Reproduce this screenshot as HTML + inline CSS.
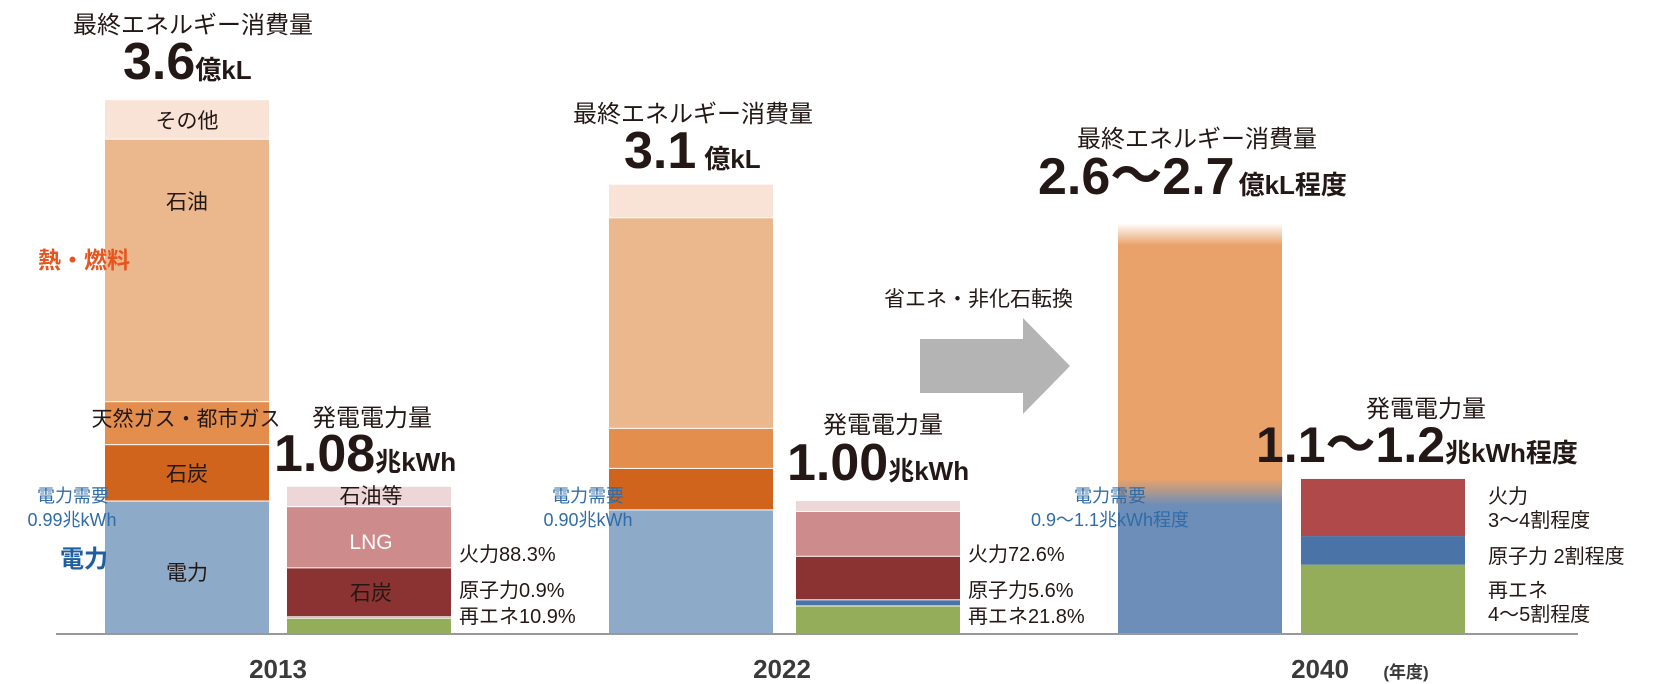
<!DOCTYPE html>
<html><head><meta charset="utf-8"><style>
html,body{margin:0;padding:0;background:#fff;}
svg{display:block;font-family:"Liberation Sans","Noto Sans CJK JP",sans-serif;}
</style></head><body>
<svg id="chart" width="1662" height="684" viewBox="0 0 1662 684" xmlns="http://www.w3.org/2000/svg">
<defs>
<linearGradient id="g2040" x1="0" y1="0" x2="0" y2="1" gradientUnits="userSpaceOnUse" x1="0" y1="223" x2="0" y2="634">
</linearGradient>
</defs>
<g id="bars"></g>
<g id="labels"></g>
</svg>
<script>
// Final energy consumption (億kL), segments bottom→top: 電力, 石炭, 天然ガス, 石油, その他
const years = ["2013", "2022", "2040"];
const energyElec = [0.90, 0.84, 0.95];
const energyCoal = [0.38, 0.28, 0];
const energyGas = [0.29, 0.27, 0];
const energyOil = [1.77, 1.42, 1.82];
const energyOther = [0.26, 0.22, 0];
// Power generation (兆kWh), bottom→top: 再エネ, 原子力, 石炭, LNG, 石油等 (2040: 火力 in coal slot)
const powerRenew = [0.12, 0.21, 0.51];
const powerNuclear = [0.01, 0.045, 0.21];
const powerCoal = [0.36, 0.32, 0.42];
const powerLng = [0.45, 0.33, 0];
const powerOilEtc = [0.15, 0.08, 0];

const NS = "http://www.w3.org/2000/svg";
const baseY = 634;
const eScale = 148.3, pScale = 136;
const yE = v => v * eScale;
const yP = v => v * pScale;
const energyX = [105, 609, 1118];
const powerX = [287, 796, 1301];
const barW = 164;
const bars = document.getElementById("bars");

function rect(x, y, w, h, fill, name) {
  const r = document.createElementNS(NS, "rect");
  r.setAttribute("x", x); r.setAttribute("y", y);
  r.setAttribute("width", w); r.setAttribute("height", Math.max(0, h));
  r.setAttribute("fill", fill);
  
  
  bars.appendChild(r);
  return r;
}

const eColors = ["#8eaac9", "#d0641d", "#e48e4e", "#ebb88e", "#f9e3d6"];
const eNames = ["electricity", "coal", "natural-gas", "oil", "other"];
const eSeries = [energyElec, energyCoal, energyGas, energyOil, energyOther];
const pColors = ["#93ad5b", "#4a73a8", "#8b3333", "#cd8b8b", "#ecd6d8"];
const pNames = ["renewable", "nuclear", "coal", "lng", "oil-etc"];
const pSeries = [powerRenew, powerNuclear, powerCoal, powerLng, powerOilEtc];

for (let i = 0; i < 2; i++) {
  let y = baseY;
  eSeries.forEach((s, k) => {
    const h = yE(s[i]); if (h <= 0) return;
    rect(energyX[i], y - h, barW, h - (k > 0 ? 0 : 0), eColors[k], "energy-" + eNames[k] + "-" + years[i]);
    y -= h;
    if (k < 4) rect(energyX[i], y - 1, barW, 2, "#fff", "segment-gap");
  });
  y = baseY;
  pSeries.forEach((s, k) => {
    const h = yP(s[i]); if (h <= 0) return;
    rect(powerX[i], y - h, barW, h, pColors[k], "power-" + pNames[k] + "-" + years[i]);
    y -= h;
    rect(powerX[i], y - 1, barW, 2, "#fff", "segment-gap");
  });
}
// 2040 blended bars
(function () {
  const defs = document.querySelector("defs");
  const elecTop = baseY - yE(energyElec[2]);
  const top = elecTop - yE(energyOil[2]);
  const g = document.createElementNS(NS, "linearGradient");
  g.setAttribute("id", "grad-energy-2040"); g.setAttribute("gradientUnits", "userSpaceOnUse");
  g.setAttribute("x1", 0); g.setAttribute("x2", 0); g.setAttribute("y1", top); g.setAttribute("y2", baseY);
  const span = baseY - top;
  const stops = [[0, "#ffffff"], [22, "#e8a26a"], [elecTop - top - 14, "#e8a26a"], [elecTop - top + 12, "#6d8eb8"], [span, "#6d8eb8"]];
  stops.forEach(([o, c]) => { const s = document.createElementNS(NS, "stop"); s.setAttribute("offset", o / span); s.setAttribute("stop-color", c); g.appendChild(s); });
  defs.appendChild(g);
  rect(energyX[2], top, barW, span, "url(#grad-energy-2040)", "energy-2040");
  let y = baseY;
  const c2 = ["#93ad5b", "#4a73a8", "#b04a4a"];
  const n2 = ["renewable", "nuclear", "thermal"];
  [powerRenew, powerNuclear, powerCoal].forEach((s, k) => {
    const h = yP(s[2]);
    rect(powerX[2], y - h, barW, h, c2[k], "power-" + n2[k] + "-2040");
    y -= h;
  });
})();
// baseline
rect(56, 633, 1522, 2, "#999", "x-axis-baseline");
// arrow
const arrow = document.createElementNS(NS, "polygon");
arrow.setAttribute("points", "920,339 1023,339 1023,318 1070,366 1023,414 1023,393 920,393");
arrow.setAttribute("fill", "#b3b4b3");


bars.appendChild(arrow);
</script>
<svg style="position:absolute;left:0;top:0" width="1662" height="684" font-family="Liberation Sans, Noto Sans CJK JP, sans-serif">
<g fill="#231815">
<text x="193" y="33" font-size="24" text-anchor="middle">最終エネルギー消費量</text>
<text x="123" y="79"><tspan font-size="52" font-weight="bold">3.6</tspan><tspan font-size="26" font-weight="bold">億kL</tspan></text>
<text x="693" y="122" font-size="24" text-anchor="middle">最終エネルギー消費量</text>
<text x="624" y="168"><tspan font-size="52" font-weight="bold">3.1</tspan><tspan font-size="26" font-weight="bold" dx="8">億kL</tspan></text>
<text x="1197" y="147" font-size="24" text-anchor="middle">最終エネルギー消費量</text>
<text x="1038" y="194"><tspan font-size="52" font-weight="bold">2.6〜2.7</tspan><tspan font-size="26" font-weight="bold" dx="4">億kL程度</tspan></text>
<text x="372" y="426" font-size="24" text-anchor="middle">発電電力量</text>
<text x="274" y="471"><tspan font-size="52" font-weight="bold">1.08</tspan><tspan font-size="26" font-weight="bold">兆kWh</tspan></text>
<text x="883" y="433" font-size="24" text-anchor="middle">発電電力量</text>
<text x="787" y="480"><tspan font-size="52" font-weight="bold">1.00</tspan><tspan font-size="26" font-weight="bold">兆kWh</tspan></text>
<text x="1426" y="417" font-size="24" text-anchor="middle">発電電力量</text>
<text x="1256" y="462"><tspan font-size="50" font-weight="bold">1.1〜1.2</tspan><tspan font-size="26" font-weight="bold">兆kWh程度</tspan></text>
<g font-size="21" text-anchor="middle">
<text x="187" y="128">その他</text>
<text x="187" y="209">石油</text>
<text x="186" y="426">天然ガス・都市ガス</text>
<text x="187" y="481">石炭</text>
<text x="187" y="580">電力</text>
<text x="371" y="503">石油等</text>
<text x="371" y="549" fill="#fff" stroke="#231815" stroke-width="0">LNG</text>
<text x="371" y="600">石炭</text>
</g>
<g font-size="20">
<text x="459" y="561">火力88.3%</text>
<text x="459" y="597">原子力0.9%</text>
<text x="459" y="623">再エネ10.9%</text>
<text x="968" y="561">火力72.6%</text>
<text x="968" y="597">原子力5.6%</text>
<text x="968" y="623">再エネ21.8%</text>
<text x="1488" y="503">火力</text>
<text x="1488" y="527">3〜4割程度</text>
<text x="1488" y="563">原子力 2割程度</text>
<text x="1488" y="597">再エネ</text>
<text x="1488" y="621">4〜5割程度</text>
<text x="884" y="306" font-size="21">省エネ・非化石転換</text>
</g>
<g font-size="26" font-weight="bold" fill="#3a3a3a" text-anchor="middle">
<text x="278" y="678">2013</text>
<text x="782" y="678">2022</text>
<text x="1320" y="678">2040</text>
<text x="1406" y="678" font-size="17">(年度)</text>
</g>
</g>
<text x="38" y="268" font-size="23" font-weight="bold" fill="#e8541e">熱・燃料</text>
<text x="60" y="567" font-size="24" font-weight="bold" fill="#1f5fa0">電力</text>
<g fill="#2f6ca8" font-size="18" text-anchor="middle">
<text x="73" y="502">電力需要</text>
<text x="72" y="526">0.99兆kWh</text>
<text x="588" y="502">電力需要</text>
<text x="588" y="526">0.90兆kWh</text>
<text x="1110" y="502">電力需要</text>
<text x="1110" y="526">0.9〜1.1兆kWh程度</text>
</g>
</svg>
</body></html>
